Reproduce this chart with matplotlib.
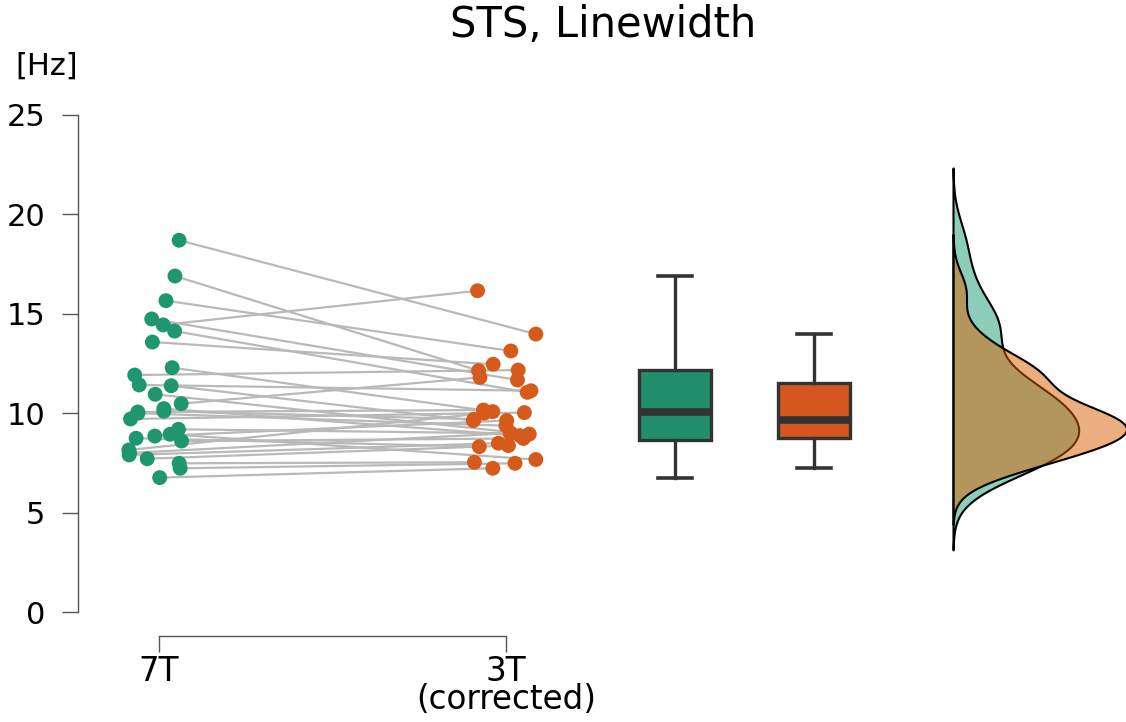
import numpy as np
import matplotlib
matplotlib.use("Agg")
import matplotlib.pyplot as plt
from matplotlib.colors import to_rgba

# ---------------- data ----------------
title = "STS, Linewidth"
unit_label = "[Hz]"
group_labels = ["7T", "3T"]
group_sublabels = ["", "(corrected)"]
y_ticks = [0, 5, 10, 15, 20, 25]

# paired linewidth values (Hz), one entry per subject
lw_7t = [18.7, 16.9, 15.66, 14.74, 14.44, 14.13, 13.58, 12.29, 11.92, 11.42,
         11.38, 10.95, 10.48, 10.23, 10.06, 10.0, 10.1, 9.71, 9.19, 8.94,
         8.85, 8.74, 8.60, 8.15, 8.0, 7.90, 7.71, 7.48, 7.23, 6.76]
lw_3t = [13.98, 12.14, 13.13, 11.67, 16.16, 11.05, 12.46, 10.08, 12.17, 11.13,
         9.63, 8.95, 11.80, 8.87, 10.16, 9.37, 9.7, 10.03, 8.99, 7.67,
         9.63, 8.32, 8.73, 10.0, 9.0, 8.49, 8.37, 7.53, 7.48, 7.23]

# horizontal jitter of each dot (group units)
jitter_7t = [0.058, 0.046, 0.020, -0.021, 0.012, 0.045, -0.019, 0.038, -0.070, -0.057,
             0.035, -0.011, 0.064, 0.014, -0.061, -0.061, 0.014, -0.082, 0.056, 0.032,
             -0.012, -0.066, 0.065, -0.087, -0.085, -0.086, -0.034, 0.058, 0.061, 0.002]
jitter_3t = [0.086, -0.079, 0.014, 0.033, -0.082, 0.061, -0.037, -0.038, 0.035, 0.072,
             -0.094, 0.067, -0.075, 0.040, -0.065, 0.000, -0.092, 0.053, 0.012, 0.086,
             0.002, -0.077, 0.050, -0.063, 0.014, -0.022, 0.007, -0.091, 0.026, -0.038]

# ---------------- style ----------------
green = "#1E9670"
orange = "#D65A1C"
green_box = "#218F6C"
orange_box = "#D5561E"
green_den = "#1B9E77"
orange_den = "#D95F02"
dark = "#333333"
plt.rcParams['font.family'] = ["DejaVu Sans"]

W, H = 1126, 722
fig = plt.figure(figsize=(W / 100, H / 100), dpi=100)
ax = fig.add_axes([78 / W, 110 / H, 1048 / W, 497 / H])

px_per_unit = 347.0
ax.set_xlim(1 - 81 / px_per_unit, 1 + 967 / px_per_unit)
ax.set_ylim(0, 25)

x7 = 1 + np.array(jitter_7t)
x3 = 2 + np.array(jitter_3t)
v7 = np.array(lw_7t)
v3 = np.array(lw_3t)

for a, b, c, d in zip(x7, x3, v7, v3):
    ax.plot([a, b], [c, d], color="#b9b9b9", lw=1.6, zorder=1, solid_capstyle='round')

ax.scatter(x7, v7, s=115, color=green, edgecolors='none', zorder=3)
ax.scatter(x3, v3, s=115, color=orange, edgecolors='none', zorder=3)

# boxplots
box_pos = [2.487, 2.888]
bp = ax.boxplot([v7, v3], positions=box_pos, widths=0.2075, patch_artist=True,
                showfliers=False, whis=1.5, capwidths=0.098, manage_ticks=False,
                boxprops=dict(linewidth=2.4, edgecolor=dark),
                medianprops=dict(color=dark, linewidth=5.5, solid_capstyle='butt'),
                whiskerprops=dict(color=dark, linewidth=2.4),
                capprops=dict(color=dark, linewidth=2.6))
for patch, col in zip(bp['boxes'], [green_box, orange_box]):
    patch.set_facecolor(col)

# densities (half violins), R-style nrd0 bandwidth
def bw_nrd0(v):
    v = np.asarray(v)
    q75, q25 = np.percentile(v, [75, 25])
    return 0.9 * min(np.std(v, ddof=1), (q75 - q25) / 1.34) * len(v) ** -0.2

def kde(v):
    bw = bw_nrd0(v)
    g = np.linspace(v.min() - 3 * bw, v.max() + 3 * bw, 512)
    d = np.exp(-0.5 * ((g[:, None] - v[None, :]) / bw) ** 2).sum(axis=1)
    d /= len(v) * bw * np.sqrt(2 * np.pi)
    return g, d

x0 = 1 + 794 / px_per_unit
g7, d7 = kde(v7)
g3, d3 = kde(v3)
scale = 0.5 / max(d7.max(), d3.max())
ax.fill_betweenx(g7, x0, x0 + d7 * scale, facecolor=to_rgba(green_den, 0.5),
                 edgecolor='black', linewidth=1.5, zorder=2, clip_on=False)
ax.fill_betweenx(g3, x0, x0 + d3 * scale, facecolor=to_rgba(orange_den, 0.5),
                 edgecolor='black', linewidth=1.5, zorder=2, clip_on=False)

# axes styling
for s in ['top', 'right']:
    ax.spines[s].set_visible(False)
ax.spines['left'].set_bounds(0, 25)
ax.spines['bottom'].set_position(('outward', 17.3))
ax.spines['bottom'].set_bounds(1, 2)
for s in ['left', 'bottom']:
    ax.spines[s].set_color('#555555')
    ax.spines[s].set_linewidth(1.0)

ax.set_yticks(y_ticks)
ax.set_yticklabels([str(t) for t in y_ticks])
ax.set_xticks([1, 2])
xlabels = [g if not s else g + "\n" + s for g, s in zip(group_labels, group_sublabels)]
ax.set_xticklabels(xlabels)
ax.tick_params(axis='both', direction='out', length=11.2, width=1.0, color='#555555',
               labelcolor='black')
ax.tick_params(axis='y', pad=12.5, labelsize=22)
ax.tick_params(axis='x', pad=2.5, labelsize=23.5)
for lab in ax.get_xticklabels():
    lab.set_linespacing(0.8)
    lab.set_multialignment('center')

fig.text(603 / W, (H - 37) / H, title, ha='center', va='baseline', fontsize=30)
fig.text(47 / W, (H - 75) / H, unit_label, ha='center', va='baseline', fontsize=22)

fig.savefig("out.png", dpi=100)
